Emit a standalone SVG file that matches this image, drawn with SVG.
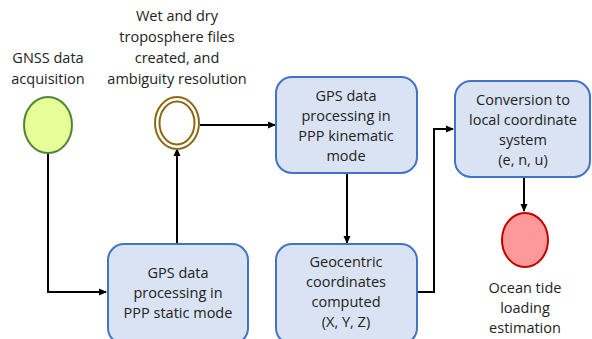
<svg xmlns="http://www.w3.org/2000/svg" width="592" height="339" viewBox="0 0 592 339">
<defs>
<marker id="ah" markerWidth="8" markerHeight="8" refX="7" refY="4" orient="auto" markerUnits="userSpaceOnUse">
<path d="M0,0.5 L8,4 L0,7.5 Z" fill="#000"/>
</marker>
<style>
.box{fill:#dae3f3;stroke:#4472c4;stroke-width:2}
.t{font-family:"Open Sans","Liberation Sans",sans-serif;font-size:14.5px;fill:#222;text-anchor:middle}
.c{fill:none;stroke:#000;stroke-width:2;marker-end:url(#ah)}
</style>
</defs>
<rect width="592" height="339" fill="#fff"/>
<g id="connectors">
<path class="c" d="M48,153 V292 H106"/>
<path class="c" d="M177,243 V149"/>
<path class="c" d="M200,125 H275"/>
<path class="c" d="M347,173 V243"/>
<path class="c" d="M417,292 H434 V129 H453"/>
<path class="c" d="M524,177 V211"/>
</g>
<g id="gnss">
<ellipse cx="48" cy="125" rx="24" ry="28" fill="#e6ff99" stroke="#548235" stroke-width="2"/>
<text class="t" x="48" y="63">GNSS data</text>
<text class="t" x="48" y="84">acquisition</text>
</g>
<g id="tropo">
<ellipse cx="177" cy="123" rx="22" ry="26" fill="#fff" stroke="#8b6914" stroke-width="2"/>
<ellipse cx="177" cy="123" rx="17.5" ry="21.5" fill="none" stroke="#8b6914" stroke-width="2"/>
<text class="t" x="177" y="21">Wet and dry</text>
<text class="t" x="177" y="42">troposphere files</text>
<text class="t" x="177" y="63">created, and</text>
<text class="t" x="177" y="84">ambiguity resolution</text>
</g>
<g id="static">
<rect class="box" x="108" y="244" width="140" height="100" rx="16"/>
<text class="t" x="178" y="278">GPS data</text>
<text class="t" x="178" y="298">processing in</text>
<text class="t" x="178" y="318">PPP static mode</text>
</g>
<g id="kinematic">
<rect class="box" x="276" y="77" width="141" height="96" rx="16"/>
<text class="t" x="346" y="101">GPS data</text>
<text class="t" x="346" y="121">processing in</text>
<text class="t" x="346" y="141">PPP kinematic</text>
<text class="t" x="346" y="161">mode</text>
</g>
<g id="geocentric">
<rect class="box" x="276" y="244" width="141" height="100" rx="16"/>
<text class="t" x="346" y="267">Geocentric</text>
<text class="t" x="346" y="287">coordinates</text>
<text class="t" x="346" y="307">computed</text>
<text class="t" x="346" y="327">(X, Y, Z)</text>
</g>
<g id="conversion">
<rect class="box" x="455" y="81" width="135" height="96" rx="16"/>
<text class="t" x="523" y="105">Conversion to</text>
<text class="t" x="523" y="125">local coordinate</text>
<text class="t" x="523" y="145">system</text>
<text class="t" x="523" y="165">(e, n, u)</text>
</g>
<g id="ocean">
<ellipse cx="525" cy="240" rx="23" ry="27" fill="#ff9999" stroke="#c00000" stroke-width="2"/>
<text class="t" x="525" y="293">Ocean tide</text>
<text class="t" x="525" y="313">loading</text>
<text class="t" x="525" y="333">estimation</text>
</g>
</svg>
